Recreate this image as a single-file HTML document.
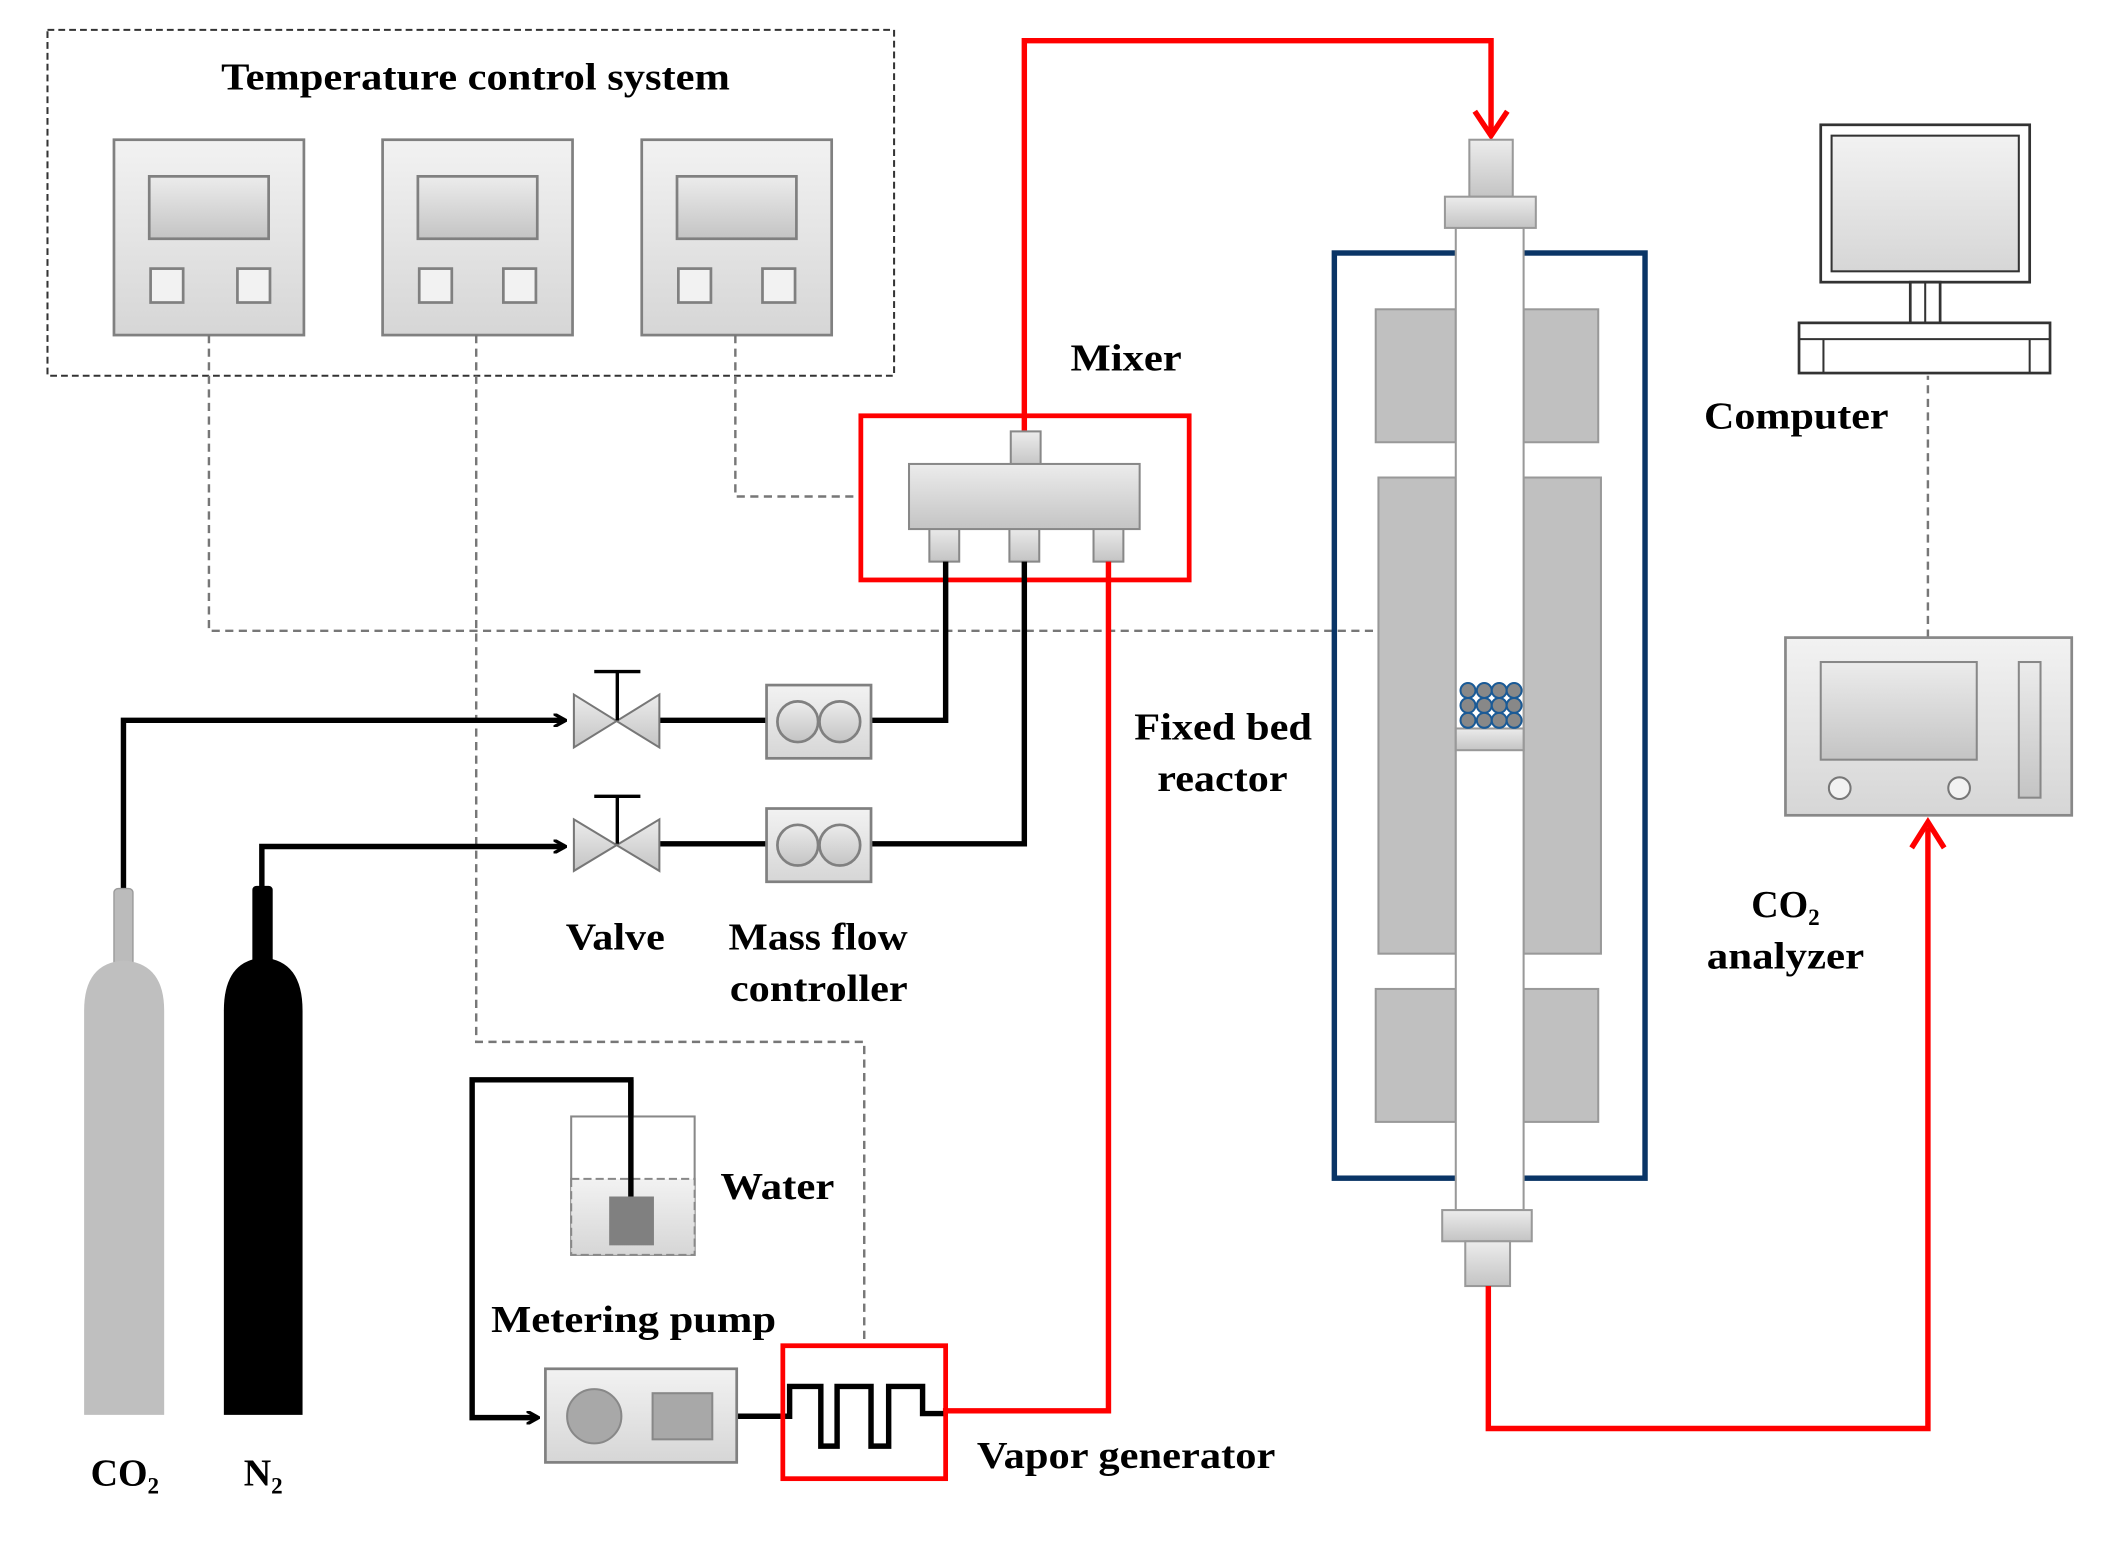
<!DOCTYPE html>
<html><head><meta charset="utf-8"><style>
html,body{margin:0;padding:0;background:#fff;}
svg{display:block;}
text{font-family:"Liberation Serif",serif;font-weight:bold;fill:#000;}
</style></head><body>
<svg width="2126" height="1556" viewBox="0 0 1567 1147" preserveAspectRatio="none" xmlns="http://www.w3.org/2000/svg">
<defs>
<linearGradient id="g1" x1="0" y1="0" x2="0" y2="1"><stop offset="0" stop-color="#f2f2f2"/><stop offset="1" stop-color="#d6d6d6"/></linearGradient>
<linearGradient id="g2" x1="0" y1="0" x2="0" y2="1"><stop offset="0" stop-color="#ececec"/><stop offset="1" stop-color="#c4c4c4"/></linearGradient>
<marker id="ab" markerWidth="10" markerHeight="10" refX="8" refY="5" orient="auto" markerUnits="userSpaceOnUse"><path d="M0,0 L9,5 L0,10" fill="none" stroke="#000" stroke-width="2.5"/></marker>
</defs>

<rect x="35" y="22" width="624" height="255" fill="none" stroke="#333" stroke-width="1.5" stroke-dasharray="5,3"/>
<text x="163" y="66" font-size="28" textLength="375" lengthAdjust="spacingAndGlyphs">Temperature control system</text>
<g stroke="#808080" stroke-width="2">
<rect x="84" y="103" width="140" height="144" fill="url(#g1)"/>
<rect x="110" y="130" width="88" height="46" fill="url(#g2)"/>
<rect x="111" y="198" width="24" height="25" fill="#f2f2f2"/><rect x="175" y="198" width="24" height="25" fill="#f2f2f2"/>
<rect x="282" y="103" width="140" height="144" fill="url(#g1)"/>
<rect x="308" y="130" width="88" height="46" fill="url(#g2)"/>
<rect x="309" y="198" width="24" height="25" fill="#f2f2f2"/><rect x="371" y="198" width="24" height="25" fill="#f2f2f2"/>
<rect x="473" y="103" width="140" height="144" fill="url(#g1)"/>
<rect x="499" y="130" width="88" height="46" fill="url(#g2)"/>
<rect x="500" y="198" width="24" height="25" fill="#f2f2f2"/><rect x="562" y="198" width="24" height="25" fill="#f2f2f2"/>
</g>
<g fill="none" stroke="#777" stroke-width="1.8" stroke-dasharray="6,4">
<path d="M154,247 V465 H1043"/>
<path d="M351,247 V768 H637 V990"/>
<path d="M542,247 V366 H633"/>
<path d="M1421,470 V277"/>
</g>

<path d="M755,318 V30 H1099 V98" fill="none" stroke="#f00" stroke-width="4"/>
<path d="M1087,82 L1099,100 L1111,82" fill="none" stroke="#f00" stroke-width="4"/>
<g fill="url(#g2)" stroke="#888" stroke-width="1.5">
<rect x="745" y="318" width="22" height="26"/>
<rect x="685" y="388" width="22" height="26"/><rect x="744" y="388" width="22" height="26"/><rect x="806" y="388" width="22" height="26"/>
<rect x="670" y="342" width="170" height="48"/>
</g>
<rect x="634.5" y="306.5" width="242" height="121" fill="none" stroke="#f00" stroke-width="3.5"/>
<text x="789" y="273" font-size="28" textLength="82" lengthAdjust="spacingAndGlyphs">Mixer</text>

<path d="M817,414 V1040 H695" fill="none" stroke="#f00" stroke-width="4"/>

<g fill="none" stroke="#000" stroke-width="4">
<path d="M697,414 V531 H642"/>
<path d="M755,414 V622 H642"/>
<path d="M486,531 H565"/><path d="M486,622 H565"/>
<path d="M91,655 V531 H416" marker-end="url(#ab)"/>
<path d="M193,655 V624 H416" marker-end="url(#ab)"/>
<path d="M465,882 V796 H348 V1045 H396" marker-end="url(#ab)"/>
<path d="M543,1044 H582 V1022 H605 V1066 H617 V1022 H642 V1066 H655 V1022 H680 V1042 H696"/>
</g>

<g stroke="#777" stroke-width="1.5" fill="url(#g2)">
<path d="M423,512 L486,551 V512 L423,551 Z"/>
<path d="M423,604 L486,642 V604 L423,642 Z"/>
</g>
<g stroke="#000" stroke-width="2.5"><path d="M455,531 V495 M438,495 H472 M455,622 V587 M438,587 H472"/></g>

<g stroke="#808080" stroke-width="2">
<rect x="565" y="505" width="77" height="54" fill="url(#g1)"/>
<circle cx="588" cy="532" r="15" fill="url(#g2)"/><circle cx="619" cy="532" r="15" fill="url(#g2)"/>
<rect x="565" y="596" width="77" height="54" fill="url(#g1)"/>
<circle cx="588" cy="623" r="15" fill="url(#g2)"/><circle cx="619" cy="623" r="15" fill="url(#g2)"/>
</g>
<text x="417" y="700" font-size="28" textLength="73" lengthAdjust="spacingAndGlyphs">Valve</text>
<text x="537" y="700" font-size="28" textLength="132" lengthAdjust="spacingAndGlyphs">Mass flow</text>
<text x="538" y="738" font-size="28" textLength="131" lengthAdjust="spacingAndGlyphs">controller</text>

<rect x="84" y="655" width="14" height="60" rx="3" fill="#bbb" stroke="#999"/>
<path d="M62,1043 V745 Q62,710 91,708 Q121,710 121,745 V1043 Z" fill="#bfbfbf"/>
<rect x="186" y="653" width="15" height="60" rx="3" fill="#000"/>
<path d="M165,1043 V745 Q165,708 194,706 Q223,708 223,745 V1043 Z" fill="#000"/>
<text x="92" y="1095" font-size="28" text-anchor="middle">CO<tspan font-size="17" dy="6">2</tspan></text>
<text x="194" y="1095" font-size="28" text-anchor="middle">N<tspan font-size="17" dy="6">2</tspan></text>

<rect x="421" y="823" width="91" height="102" fill="#fff" stroke="#888" stroke-width="1.5"/>
<rect x="421" y="869" width="91" height="56" fill="url(#g1)" stroke="#888" stroke-width="1.5" stroke-dasharray="6,3"/>
<rect x="449" y="882" width="33" height="36" fill="#808080"/>
<path d="M465,882 V796" stroke="#000" stroke-width="4"/>
<text x="531" y="884" font-size="28" textLength="84" lengthAdjust="spacingAndGlyphs">Water</text>
<text x="362" y="982" font-size="28" textLength="210" lengthAdjust="spacingAndGlyphs">Metering pump</text>

<rect x="402" y="1009" width="141" height="69" fill="url(#g1)" stroke="#808080" stroke-width="2"/>
<circle cx="438" cy="1044" r="20" fill="#a8a8a8" stroke="#888" stroke-width="1.5"/>
<rect x="481" y="1027" width="44" height="34" fill="#a8a8a8" stroke="#888" stroke-width="1.5"/>
<rect x="577" y="992" width="120" height="98" fill="none" stroke="#f00" stroke-width="3.5"/>
<text x="720" y="1082" font-size="28" textLength="220" lengthAdjust="spacingAndGlyphs">Vapor generator</text>

<rect x="983.5" y="186.5" width="229" height="682" fill="none" stroke="#0a3566" stroke-width="4"/>
<g fill="#c0c0c0" stroke="#999" stroke-width="1.5">
<rect x="1014" y="228" width="59" height="98"/><rect x="1123" y="228" width="55" height="98"/>
<rect x="1016" y="352" width="57" height="351"/><rect x="1123" y="352" width="57" height="351"/>
<rect x="1014" y="729" width="59" height="98"/><rect x="1123" y="729" width="55" height="98"/>
</g>
<rect x="1073" y="168" width="50" height="724" fill="#fff" stroke="#999" stroke-width="1.5"/>
<g fill="url(#g2)" stroke="#999" stroke-width="1.5">
<rect x="1083" y="103" width="32" height="42"/><rect x="1065" y="145" width="67" height="23"/>
<rect x="1063" y="892" width="66" height="23"/><rect x="1080" y="915" width="33" height="33"/>
<rect x="1073" y="537" width="50" height="16"/>
</g>
<g fill="#888" stroke="#1a5a96" stroke-width="1.5">
<circle cx="1082" cy="509" r="5.5"/><circle cx="1094" cy="509" r="5.5"/><circle cx="1105" cy="509" r="5.5"/><circle cx="1116" cy="509" r="5.5"/>
<circle cx="1082" cy="520" r="5.5"/><circle cx="1094" cy="520" r="5.5"/><circle cx="1105" cy="520" r="5.5"/><circle cx="1116" cy="520" r="5.5"/>
<circle cx="1082" cy="531" r="5.5"/><circle cx="1094" cy="531" r="5.5"/><circle cx="1105" cy="531" r="5.5"/><circle cx="1116" cy="531" r="5.5"/>
</g>
<text x="836" y="545" font-size="28" textLength="131" lengthAdjust="spacingAndGlyphs">Fixed bed</text>
<text x="853" y="583" font-size="28" textLength="96" lengthAdjust="spacingAndGlyphs">reactor</text>

<path d="M1097,948 V1053 H1421 V610" fill="none" stroke="#f00" stroke-width="4"/>
<path d="M1409,625 L1421,606 L1433,625" fill="none" stroke="#f00" stroke-width="4"/>

<rect x="1316" y="470" width="211" height="131" fill="url(#g1)" stroke="#888" stroke-width="2"/>
<rect x="1342" y="488" width="115" height="72" fill="url(#g2)" stroke="#888" stroke-width="1.5"/>
<circle cx="1356" cy="581" r="8" fill="#f2f2f2" stroke="#777" stroke-width="1.5"/>
<circle cx="1444" cy="581" r="8" fill="#f2f2f2" stroke="#777" stroke-width="1.5"/>
<rect x="1488" y="488" width="16" height="100" fill="url(#g2)" stroke="#888" stroke-width="1.5"/>
<text x="1316" y="676" font-size="28" text-anchor="middle">CO<tspan font-size="17" dy="6">2</tspan></text>
<text x="1258" y="714" font-size="28" textLength="116" lengthAdjust="spacingAndGlyphs">analyzer</text>

<rect x="1342" y="92" width="154" height="116" fill="#fff" stroke="#333" stroke-width="2"/>
<rect x="1350" y="100" width="138" height="100" fill="url(#g1)" stroke="#333" stroke-width="1.5"/>
<rect x="1408" y="208" width="22" height="30" fill="#fff" stroke="#333" stroke-width="2"/>
<path d="M1419,208 V238" stroke="#333" stroke-width="1.5"/>
<rect x="1326" y="238" width="185" height="37" fill="#fff" stroke="#333" stroke-width="2"/>
<path d="M1326,250 H1511 M1344,250 V275 M1496,250 V275" stroke="#333" stroke-width="1.5" fill="none"/>
<text x="1256" y="316" font-size="28" textLength="136" lengthAdjust="spacingAndGlyphs">Computer</text>
</svg>
</body></html>
